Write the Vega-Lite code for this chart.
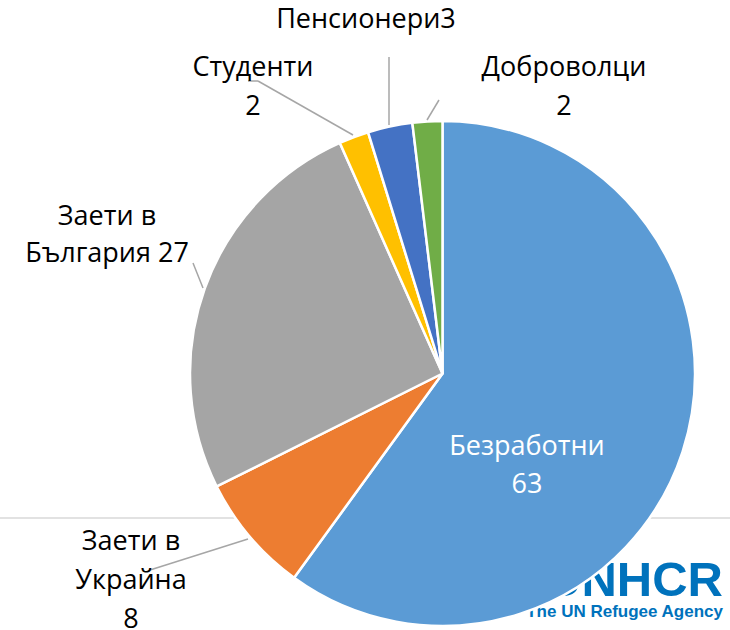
{
  "$schema": "https://vega.github.io/schema/vega-lite/v6.json",
  "width": 730,
  "height": 630,
  "padding": 0,
  "autosize": {"type": "none"},
  "background": "white",
  "config": {"view": {"stroke": null}},
  "datasets": {
    "slices": [
      {"category": "Безработни", "count": 63, "ord": 1, "label": "Безработни\n63"},
      {"category": "Заети в Украйна", "count": 8, "ord": 2, "label": "Заети в\nУкрайна\n8"},
      {"category": "Заети в България", "count": 27, "ord": 3, "label": "Заети в\nБългария 27"},
      {"category": "Студенти", "count": 2, "ord": 4, "label": "Студенти\n2"},
      {"category": "Пенсионери", "count": 3, "ord": 5, "label": "Пенсионери3"},
      {"category": "Доброволци", "count": 2, "ord": 6, "label": "Доброволци\n2"}
    ],
    "one": [{"n": 1}]
  },
  "data": {"name": "slices"},
  "resolve": {"scale": {"x": "shared", "y": "shared"}},
  "layer": [
    {
      "data": {"name": "one"},
      "mark": {"type": "rule", "color": "#d9d9d9", "strokeWidth": 1.5},
      "encoding": {"y": {"datum": -147, "type": "quantitative", "scale": {"domain": [-259, 371], "nice": false, "zero": false}, "axis": null}}
    },
    {
      "data": {"name": "one"},
      "mark": {"type": "text", "text": "UNHCR", "align": "right", "baseline": "alphabetic", "font": "Liberation Sans", "fontWeight": "bold", "fontSize": 49, "color": "#0072BC"},
      "encoding": {
        "x": {"datum": 281, "type": "quantitative", "scale": {"domain": [-442, 288], "nice": false, "zero": false}, "axis": null},
        "y": {"datum": -225, "type": "quantitative", "axis": null}
      }
    },
    {
      "data": {"name": "one"},
      "mark": {"type": "text", "text": "The UN Refugee Agency", "align": "right", "baseline": "alphabetic", "font": "Liberation Sans", "fontWeight": "bold", "fontSize": 17, "color": "#0072BC"},
      "encoding": {
        "x": {"datum": 281, "type": "quantitative"},
        "y": {"datum": -246, "type": "quantitative"}
      }
    },
    {
      "mark": {"type": "arc", "outerRadius": 252.5, "stroke": "white", "strokeWidth": 2.5},
      "encoding": {
        "x": {"datum": 0.5, "type": "quantitative"},
        "y": {"datum": -2.5, "type": "quantitative"},
        "theta": {"field": "count", "type": "quantitative", "stack": true},
        "order": {"field": "ord", "type": "quantitative"},
        "color": {
          "field": "category",
          "type": "nominal",
          "legend": null,
          "scale": {
            "domain": ["Безработни", "Заети в Украйна", "Заети в България", "Студенти", "Пенсионери", "Доброволци"],
            "range": ["#5B9BD5", "#ED7D31", "#A5A5A5", "#FFC000", "#4472C4", "#70AD47"]
          }
        }
      }
    },
    {
      "data": {"name": "one"},
      "mark": {"type": "rule", "color": "#a6a6a6", "strokeWidth": 1.5},
      "encoding": {"x": {"datum": -194}, "y": {"datum": -168}, "x2": {"datum": -292}, "y2": {"datum": -199}}
    },
    {
      "data": {"name": "one"},
      "mark": {"type": "rule", "color": "#a6a6a6", "strokeWidth": 1.5},
      "encoding": {"x": {"datum": -249}, "y": {"datum": 108}, "x2": {"datum": -239}, "y2": {"datum": 83}}
    },
    {
      "data": {"name": "one"},
      "mark": {"type": "rule", "color": "#a6a6a6", "strokeWidth": 1.5},
      "encoding": {"x": {"datum": -194}, "y": {"datum": 290}, "x2": {"datum": -184}, "y2": {"datum": 290}}
    },
    {
      "data": {"name": "one"},
      "mark": {"type": "rule", "color": "#a6a6a6", "strokeWidth": 1.5},
      "encoding": {"x": {"datum": -184}, "y": {"datum": 290}, "x2": {"datum": -89}, "y2": {"datum": 236}}
    },
    {
      "data": {"name": "one"},
      "mark": {"type": "rule", "color": "#a6a6a6", "strokeWidth": 1.5},
      "encoding": {"x": {"datum": -53}, "y": {"datum": 314}, "x2": {"datum": -53}, "y2": {"datum": 246}}
    },
    {
      "data": {"name": "one"},
      "mark": {"type": "rule", "color": "#a6a6a6", "strokeWidth": 1.5},
      "encoding": {"x": {"datum": -3}, "y": {"datum": 271}, "x2": {"datum": -15}, "y2": {"datum": 251}}
    },
    {
      "transform": [{"filter": "datum.ord == 1"}],
      "mark": {"type": "text", "font": "Open Sans", "fontSize": 27, "lineBreak": "\n", "lineHeight": 38, "align": "center", "baseline": "middle", "color": "white"},
      "encoding": {"x": {"datum": 85}, "y": {"datum": -76}, "text": {"field": "label"}}
    },
    {
      "transform": [{"filter": "datum.ord == 2"}],
      "mark": {"type": "text", "font": "Open Sans", "fontSize": 27, "lineBreak": "\n", "lineHeight": 39, "align": "center", "baseline": "middle", "color": "black"},
      "encoding": {"x": {"datum": -311}, "y": {"datum": -171}, "text": {"field": "label"}}
    },
    {
      "transform": [{"filter": "datum.ord == 3"}],
      "mark": {"type": "text", "font": "Open Sans", "fontSize": 27, "lineBreak": "\n", "lineHeight": 37, "align": "center", "baseline": "middle", "color": "black"},
      "encoding": {"x": {"datum": -335}, "y": {"datum": 154}, "text": {"field": "label"}}
    },
    {
      "transform": [{"filter": "datum.ord == 4"}],
      "mark": {"type": "text", "font": "Open Sans", "fontSize": 27, "lineBreak": "\n", "lineHeight": 39, "align": "center", "baseline": "middle", "color": "black"},
      "encoding": {"x": {"datum": -189}, "y": {"datum": 303}, "text": {"field": "label"}}
    },
    {
      "transform": [{"filter": "datum.ord == 5"}],
      "mark": {"type": "text", "font": "Open Sans", "fontSize": 27, "lineBreak": "\n", "lineHeight": 38, "align": "center", "baseline": "middle", "color": "black"},
      "encoding": {"x": {"datum": -76}, "y": {"datum": 351}, "text": {"field": "label"}}
    },
    {
      "transform": [{"filter": "datum.ord == 6"}],
      "mark": {"type": "text", "font": "Open Sans", "fontSize": 27, "lineBreak": "\n", "lineHeight": 39, "align": "center", "baseline": "middle", "color": "black"},
      "encoding": {"x": {"datum": 122}, "y": {"datum": 303}, "text": {"field": "label"}}
    }
  ]
}
